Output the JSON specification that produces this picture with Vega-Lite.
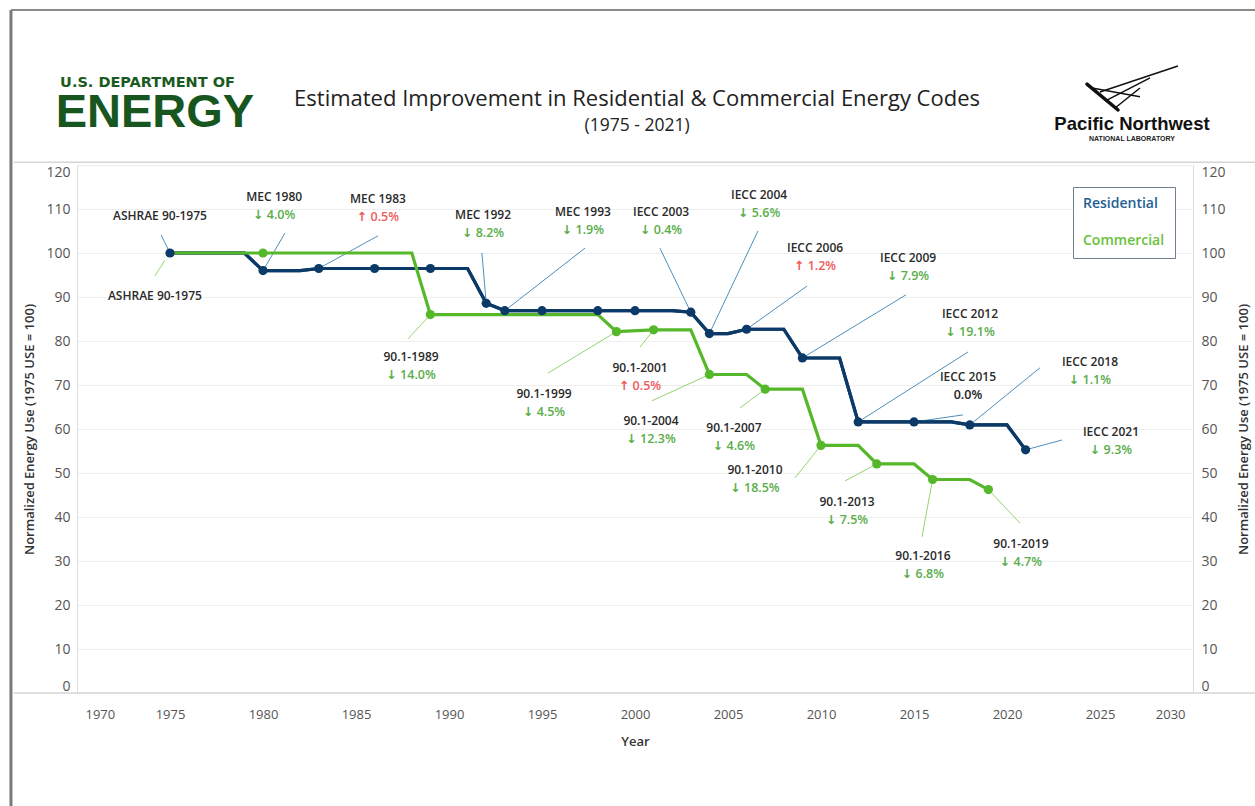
{
  "$schema": "https://vega.github.io/schema/vega-lite/v6.json",
  "width": 1116,
  "height": 528,
  "autosize": {"type": "none"},
  "padding": {"left": 77, "top": 165, "right": 62, "bottom": 113},
  "background": "white",
  "config": {"view": {"stroke": null}, "font": "Open Sans"},
  "datasets": {
    "lines": [
      {"series": "Commercial", "year": 1975, "value": 100, "code": false},
      {"series": "Commercial", "year": 1980, "value": 100, "code": true},
      {"series": "Commercial", "year": 1988, "value": 100, "code": false},
      {"series": "Commercial", "year": 1989, "value": 86.0, "code": true},
      {"series": "Commercial", "year": 1998, "value": 86.0, "code": false},
      {"series": "Commercial", "year": 1999, "value": 82.13, "code": true},
      {"series": "Commercial", "year": 2001, "value": 82.54, "code": true},
      {"series": "Commercial", "year": 2003, "value": 82.54, "code": false},
      {"series": "Commercial", "year": 2004, "value": 72.39, "code": true},
      {"series": "Commercial", "year": 2006, "value": 72.39, "code": false},
      {"series": "Commercial", "year": 2007, "value": 69.06, "code": true},
      {"series": "Commercial", "year": 2009, "value": 69.06, "code": false},
      {"series": "Commercial", "year": 2010, "value": 56.28, "code": true},
      {"series": "Commercial", "year": 2012, "value": 56.28, "code": false},
      {"series": "Commercial", "year": 2013, "value": 52.06, "code": true},
      {"series": "Commercial", "year": 2015, "value": 52.06, "code": false},
      {"series": "Commercial", "year": 2016, "value": 48.52, "code": true},
      {"series": "Commercial", "year": 2018, "value": 48.52, "code": false},
      {"series": "Commercial", "year": 2019, "value": 46.24, "code": true},
      {"series": "Residential", "year": 1975, "value": 100, "code": true},
      {"series": "Residential", "year": 1979, "value": 100, "code": false},
      {"series": "Residential", "year": 1980, "value": 96.0, "code": true},
      {"series": "Residential", "year": 1982, "value": 96.0, "code": false},
      {"series": "Residential", "year": 1983, "value": 96.48, "code": true},
      {"series": "Residential", "year": 1986, "value": 96.48, "code": true},
      {"series": "Residential", "year": 1989, "value": 96.48, "code": true},
      {"series": "Residential", "year": 1991, "value": 96.48, "code": false},
      {"series": "Residential", "year": 1992, "value": 88.57, "code": true},
      {"series": "Residential", "year": 1993, "value": 86.89, "code": true},
      {"series": "Residential", "year": 1995, "value": 86.89, "code": true},
      {"series": "Residential", "year": 1998, "value": 86.89, "code": true},
      {"series": "Residential", "year": 2000, "value": 86.89, "code": true},
      {"series": "Residential", "year": 2002, "value": 86.89, "code": false},
      {"series": "Residential", "year": 2003, "value": 86.54, "code": true},
      {"series": "Residential", "year": 2004, "value": 81.69, "code": true},
      {"series": "Residential", "year": 2005, "value": 81.69, "code": false},
      {"series": "Residential", "year": 2006, "value": 82.67, "code": true},
      {"series": "Residential", "year": 2008, "value": 82.67, "code": false},
      {"series": "Residential", "year": 2009, "value": 76.14, "code": true},
      {"series": "Residential", "year": 2011, "value": 76.14, "code": false},
      {"series": "Residential", "year": 2012, "value": 61.6, "code": true},
      {"series": "Residential", "year": 2015, "value": 61.6, "code": true},
      {"series": "Residential", "year": 2017, "value": 61.6, "code": false},
      {"series": "Residential", "year": 2018, "value": 60.92, "code": true},
      {"series": "Residential", "year": 2020, "value": 60.92, "code": false},
      {"series": "Residential", "year": 2021, "value": 55.26, "code": true}
    ],
    "notes": [
      {"name": "ASHRAE 90-1975", "chg": "", "dir": "none", "series": "Residential", "year": 1975, "value": 100, "lx": 1974.52, "ly": 104.1, "tx": 1974.46, "ty": 108.4},
      {"name": "MEC 1980", "chg": "↓ 4.0%", "dir": "down", "series": "Residential", "year": 1980, "value": 96.0, "lx": 1981.18, "ly": 104.5, "tx": 1980.6, "ty": 112.7},
      {"name": "MEC 1983", "chg": "↑ 0.5%", "dir": "up", "series": "Residential", "year": 1983, "value": 96.48, "lx": 1986.18, "ly": 103.9, "tx": 1986.18, "ty": 112.3},
      {"name": "MEC 1992", "chg": "↓ 8.2%", "dir": "down", "series": "Residential", "year": 1992, "value": 88.57, "lx": 1991.77, "ly": 100.0, "tx": 1991.83, "ty": 108.6},
      {"name": "MEC 1993", "chg": "↓ 1.9%", "dir": "down", "series": "Residential", "year": 1993, "value": 86.89, "lx": 1997.31, "ly": 101.1, "tx": 1997.2, "ty": 109.3},
      {"name": "IECC 2003", "chg": "↓ 0.4%", "dir": "down", "series": "Residential", "year": 2003, "value": 86.54, "lx": 2001.34, "ly": 101.1, "tx": 2001.4, "ty": 109.3},
      {"name": "IECC 2004", "chg": "↓ 5.6%", "dir": "down", "series": "Residential", "year": 2004, "value": 81.69, "lx": 2006.61, "ly": 105.0, "tx": 2006.67, "ty": 113.2},
      {"name": "IECC 2006", "chg": "↑ 1.2%", "dir": "up", "series": "Residential", "year": 2006, "value": 82.67, "lx": 2009.25, "ly": 92.5, "tx": 2009.68, "ty": 101.1},
      {"name": "IECC 2009", "chg": "↓ 7.9%", "dir": "down", "series": "Residential", "year": 2009, "value": 76.14, "lx": 2014.57, "ly": 90.5, "tx": 2014.68, "ty": 98.9},
      {"name": "IECC 2012", "chg": "↓ 19.1%", "dir": "down", "series": "Residential", "year": 2012, "value": 61.6, "lx": 2017.9, "ly": 77.5, "tx": 2018.01, "ty": 86.1},
      {"name": "IECC 2015", "chg": "0.0%", "dir": "none", "series": "Residential", "year": 2015, "value": 61.6, "lx": 2017.63, "ly": 63.2, "tx": 2017.9, "ty": 71.8},
      {"name": "IECC 2018", "chg": "↓ 1.1%", "dir": "down", "series": "Residential", "year": 2018, "value": 60.92, "lx": 2021.77, "ly": 73.9, "tx": 2024.46, "ty": 75.2},
      {"name": "IECC 2021", "chg": "↓ 9.3%", "dir": "down", "series": "Residential", "year": 2021, "value": 55.26, "lx": 2022.96, "ly": 57.5, "tx": 2025.59, "ty": 59.3},
      {"name": "ASHRAE 90-1975", "chg": "", "dir": "none", "series": "Commercial", "year": 1974.73, "value": 98.4, "lx": 1974.19, "ly": 94.8, "tx": 1974.19, "ty": 90.2},
      {"name": "90.1-1989", "chg": "↓ 14.0%", "dir": "down", "series": "Commercial", "year": 1989, "value": 86.0, "lx": 1987.8, "ly": 80.5, "tx": 1987.96, "ty": 76.4},
      {"name": "90.1-1999", "chg": "↓ 4.5%", "dir": "down", "series": "Commercial", "year": 1999, "value": 82.13, "lx": 1995.32, "ly": 72.7, "tx": 1995.11, "ty": 68.0},
      {"name": "90.1-2001", "chg": "↑ 0.5%", "dir": "up", "series": "Commercial", "year": 2001, "value": 82.54, "lx": 2000.27, "ly": 78.6, "tx": 2000.27, "ty": 73.9},
      {"name": "90.1-2004", "chg": "↓ 12.3%", "dir": "down", "series": "Commercial", "year": 2004, "value": 72.39, "lx": 2000.91, "ly": 66.4, "tx": 2000.86, "ty": 61.8},
      {"name": "90.1-2007", "chg": "↓ 4.6%", "dir": "down", "series": "Commercial", "year": 2007, "value": 69.06, "lx": 2005.65, "ly": 64.8, "tx": 2005.32, "ty": 60.2},
      {"name": "90.1-2010", "chg": "↓ 18.5%", "dir": "down", "series": "Commercial", "year": 2010, "value": 56.28, "lx": 2008.6, "ly": 48.9, "tx": 2006.45, "ty": 50.7},
      {"name": "90.1-2013", "chg": "↓ 7.5%", "dir": "down", "series": "Commercial", "year": 2013, "value": 52.06, "lx": 2011.29, "ly": 48.2, "tx": 2011.4, "ty": 43.4},
      {"name": "90.1-2016", "chg": "↓ 6.8%", "dir": "down", "series": "Commercial", "year": 2016, "value": 48.52, "lx": 2015.43, "ly": 35.5, "tx": 2015.48, "ty": 31.1},
      {"name": "90.1-2019", "chg": "↓ 4.7%", "dir": "down", "series": "Commercial", "year": 2019, "value": 46.24, "lx": 2020.7, "ly": 38.6, "tx": 2020.75, "ty": 33.9}
    ],
    "bird": [
      {"x": 2025.0, "y": 136.6, "x2": 2029.19, "y2": 142.5},
      {"x": 2024.57, "y": 137.5, "x2": 2027.15, "y2": 135.5},
      {"x": 2025.27, "y": 134.5, "x2": 2027.69, "y2": 139.8},
      {"x": 2025.81, "y": 132.95, "x2": 2027.15, "y2": 137.5}
    ]
  },
  "layer": [
    {
      "data": {"name": "lines"},
      "transform": [{"filter": "datum.series === 'Residential'"}],
      "mark": {"type": "line", "strokeWidth": 3.2},
      "encoding": {
        "x": {
          "field": "year", "type": "quantitative",
          "scale": {"domain": [1970, 2030], "nice": false, "zero": false},
          "axis": {
            "title": "Year", "values": [1970, 1975, 1980, 1985, 1990, 1995, 2000, 2005, 2010, 2015, 2020, 2025, 2030],
            "format": "d", "ticks": false, "grid": false, "domain": false,
            "labelFont": "Open Sans", "labelFontSize": 13, "labelColor": "#555555", "labelPadding": 15,
            "labelFlush": true, "labelFlushOffset": -8,
            "titleFont": "Open Sans", "titleFontSize": 13, "titleFontWeight": 600, "titleColor": "#333333", "titlePadding": 14
          }
        },
        "y": {
          "field": "value", "type": "quantitative",
          "scale": {"domain": [0, 120], "nice": false},
          "axis": {
            "orient": "left", "title": "Normalized Energy Use (1975 USE = 100)",
            "values": [0, 10, 20, 30, 40, 50, 60, 70, 80, 90, 100, 110, 120],
            "ticks": false, "grid": true, "gridColor": "#eeeeee", "domainColor": "#dddddd",
            "labelFlush": true,
            "labelFont": "Open Sans", "labelFontSize": 14, "labelColor": "#555555", "labelPadding": 7,
            "titleFont": "Open Sans", "titleFontSize": 13, "titleFontWeight": 600, "titleColor": "#333333", "titlePadding": 9
          }
        },
        "color": {
          "field": "series", "type": "nominal",
          "scale": {"domain": ["Residential", "Commercial"], "range": ["#0c3a68", "#55b82a"]},
          "legend": {
            "title": null, "orient": "none", "legendX": 996, "legendY": 22,
            "strokeColor": "#6f7f8f", "fillColor": "white", "padding": 10,
            "labelFont": "Open Sans", "labelFontSize": 14, "labelFontWeight": 600,
            "symbolSize": 0, "symbolStrokeWidth": 0, "symbolOpacity": 0, "labelOffset": -14,
            "rowPadding": 23, "labelLimit": 200,
            "encode": {"labels": {"update": {"fill": {"signal": "datum.value === 'Residential' ? '#245f93' : '#67c23a'"}}}}
          }
        }
      }
    },
    {
      "data": {"values": [{}]},
      "mark": {"type": "rule", "color": "#7a7a7a", "strokeWidth": 3},
      "encoding": {
        "x": {"datum": 1966.45, "type": "quantitative"},
        "y": {"datum": 155.2, "type": "quantitative", "axis": null},
        "y2": {"datum": -26}
      }
    },
    {
      "data": {"values": [{}]},
      "mark": {"type": "rule", "color": "#8a8a8a", "strokeWidth": 2},
      "encoding": {
        "x": {"datum": 1966.45, "type": "quantitative"},
        "x2": {"datum": 2034},
        "y": {"datum": 155.2, "type": "quantitative", "axis": null}
      }
    },
    {
      "data": {"values": [{}]},
      "mark": {"type": "rule", "color": "#d6d6d6", "strokeWidth": 1.5},
      "encoding": {
        "x": {"datum": 1966.6, "type": "quantitative"},
        "x2": {"datum": 2034},
        "y": {"datum": 120.6, "type": "quantitative", "axis": null}
      }
    },
    {
      "data": {"values": [{}]},
      "mark": {"type": "rule", "color": "#d6d6d6", "strokeWidth": 1.5},
      "encoding": {
        "x": {"datum": 1966.6, "type": "quantitative"},
        "x2": {"datum": 2034},
        "y": {"datum": 0, "type": "quantitative", "axis": null}
      }
    },
    {
      "data": {"name": "notes"},
      "mark": {"type": "rule", "strokeWidth": 1},
      "encoding": {
        "x": {"field": "year", "type": "quantitative"},
        "y": {"field": "value", "type": "quantitative", "axis": null},
        "x2": {"field": "lx"},
        "y2": {"field": "ly"},
        "color": {"condition": {"test": "datum.series === 'Residential'", "value": "#4d8fbd"}, "value": "#93d56f"}
      }
    },
    {
      "data": {"name": "lines"},
      "transform": [{"filter": "datum.series === 'Residential'"}],
      "mark": {"type": "line", "strokeWidth": 3.2},
      "encoding": {
        "x": {"field": "year", "type": "quantitative"},
        "y": {"field": "value", "type": "quantitative", "axis": null},
        "color": {"field": "series", "type": "nominal"}
      }
    },
    {
      "data": {"name": "lines"},
      "transform": [{"filter": "datum.series === 'Commercial'"}],
      "mark": {"type": "line", "strokeWidth": 3.2},
      "encoding": {
        "x": {"field": "year", "type": "quantitative"},
        "y": {"field": "value", "type": "quantitative", "axis": null},
        "color": {"field": "series", "type": "nominal"}
      }
    },
    {
      "data": {"name": "lines"},
      "transform": [{"filter": "datum.code"}],
      "mark": {"type": "point", "filled": true, "opacity": 1, "size": 85},
      "encoding": {
        "x": {"field": "year", "type": "quantitative"},
        "y": {
          "field": "value", "type": "quantitative",
          "axis": {
            "orient": "right", "title": "Normalized Energy Use (1975 USE = 100)",
            "values": [0, 10, 20, 30, 40, 50, 60, 70, 80, 90, 100, 110, 120],
            "ticks": false, "grid": false, "domainColor": "#dddddd",
            "labelFlush": true,
            "labelFont": "Open Sans", "labelFontSize": 14, "labelColor": "#555555", "labelPadding": 8,
            "titleFont": "Open Sans", "titleFontSize": 13, "titleFontWeight": 600, "titleColor": "#333333", "titlePadding": 25,
            "titleAngle": 270
          }
        },
        "color": {"field": "series", "type": "nominal"}
      }
    },
    {
      "data": {"name": "notes"},
      "mark": {"type": "text", "fontSize": 12, "fontWeight": 600, "color": "#2a2a2a", "align": "center", "baseline": "middle"},
      "encoding": {
        "x": {"field": "tx", "type": "quantitative"},
        "y": {"field": "ty", "type": "quantitative", "axis": null},
        "text": {"field": "name"}
      }
    },
    {
      "data": {"name": "notes"},
      "transform": [{"filter": "datum.chg !== ''"}],
      "mark": {"type": "text", "font": "Open Sans, DejaVu Sans", "fontSize": 12.5, "fontWeight": 600, "align": "center", "baseline": "middle", "dy": 18},
      "encoding": {
        "x": {"field": "tx", "type": "quantitative"},
        "y": {"field": "ty", "type": "quantitative", "axis": null},
        "text": {"field": "chg"},
        "color": {"condition": [{"test": "datum.dir === 'up'", "value": "#ef5b5b"}, {"test": "datum.dir === 'down'", "value": "#5aad4a"}], "value": "#222222"}
      }
    },
    {
      "data": {"values": [{}]},
      "mark": {"type": "text", "font": "Open Sans", "fontSize": 22, "color": "#222222", "align": "center", "baseline": "middle"},
      "encoding": {
        "x": {"datum": 2000.11, "type": "quantitative"},
        "y": {"datum": 135.0, "type": "quantitative", "axis": null},
        "text": {"value": "Estimated Improvement in Residential & Commercial Energy Codes"}
      }
    },
    {
      "data": {"values": [{}]},
      "mark": {"type": "text", "font": "Open Sans", "fontSize": 17.5, "color": "#222222", "align": "center", "baseline": "middle"},
      "encoding": {
        "x": {"datum": 2000.11, "type": "quantitative"},
        "y": {"datum": 128.9, "type": "quantitative", "axis": null},
        "text": {"value": "(1975 - 2021)"}
      }
    },
    {
      "data": {"values": [{}]},
      "mark": {"type": "text", "font": "DejaVu Sans", "fontSize": 14.5, "fontWeight": "bold", "color": "#1a5a22", "align": "center", "baseline": "middle"},
      "encoding": {
        "x": {"datum": 1973.79, "type": "quantitative"},
        "y": {"datum": 138.6, "type": "quantitative", "axis": null},
        "text": {"value": "U.S. DEPARTMENT OF"}
      }
    },
    {
      "data": {"values": [{}]},
      "mark": {"type": "text", "font": "Liberation Sans", "fontSize": 47, "fontWeight": "bold", "color": "#17561f", "align": "center", "baseline": "middle"},
      "encoding": {
        "x": {"datum": 1974.19, "type": "quantitative"},
        "y": {"datum": 131.8, "type": "quantitative", "axis": null},
        "text": {"value": "ENERGY"}
      }
    },
    {
      "data": {"values": [{}]},
      "mark": {"type": "text", "font": "Liberation Sans", "fontSize": 18.5, "fontWeight": "bold", "color": "#111111", "align": "center", "baseline": "middle"},
      "encoding": {
        "x": {"datum": 2026.72, "type": "quantitative"},
        "y": {"datum": 129.3, "type": "quantitative", "axis": null},
        "text": {"value": "Pacific Northwest"}
      }
    },
    {
      "data": {"values": [{}]},
      "mark": {"type": "text", "font": "Liberation Sans", "fontSize": 7, "fontWeight": "bold", "color": "#222222", "align": "center", "baseline": "middle"},
      "encoding": {
        "x": {"datum": 2026.72, "type": "quantitative"},
        "y": {"datum": 125.9, "type": "quantitative", "axis": null},
        "text": {"value": "NATIONAL LABORATORY"}
      }
    },
    {
      "data": {"values": [{}]},
      "mark": {"type": "rule", "color": "#111111", "strokeWidth": 3.5, "strokeCap": "round"},
      "encoding": {
        "x": {"datum": 2024.3, "type": "quantitative"},
        "y": {"datum": 138.4, "type": "quantitative", "axis": null},
        "x2": {"datum": 2025.97},
        "y2": {"datum": 132.5}
      }
    },
    {
      "data": {"name": "bird"},
      "mark": {"type": "rule", "color": "#111111", "strokeWidth": 1.5},
      "encoding": {
        "x": {"field": "x", "type": "quantitative"},
        "y": {"field": "y", "type": "quantitative", "axis": null},
        "x2": {"field": "x2"},
        "y2": {"field": "y2"}
      }
    }
  ],
  "resolve": {"axis": {"y": "independent"}}
}
